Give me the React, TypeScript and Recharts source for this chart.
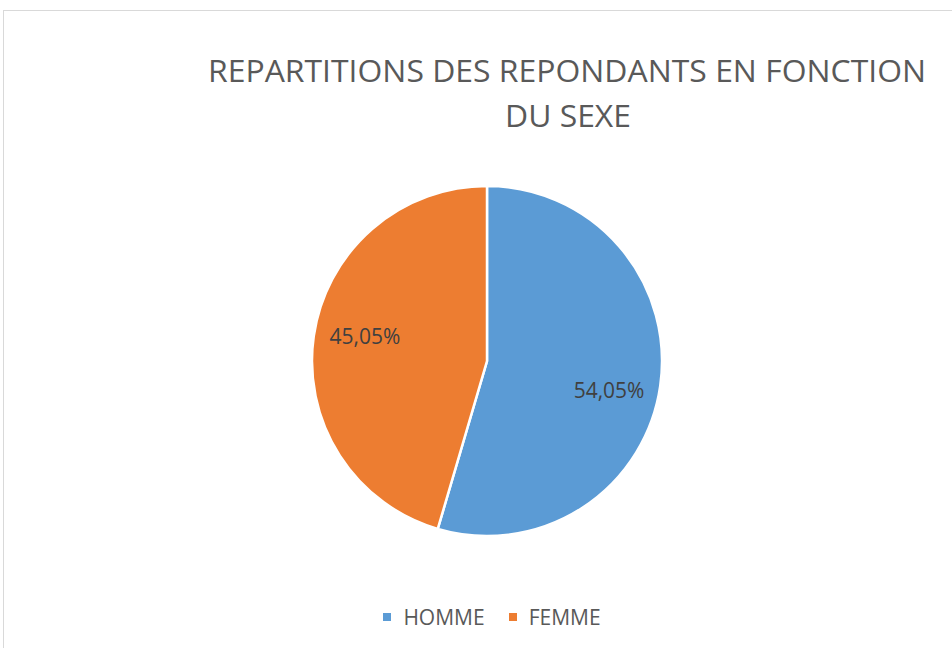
import React from "react";
import { PieChart, Pie, Cell, Legend } from "recharts";

const categories = ["HOMME", "FEMME"];
const values = [54.05, 45.05];
const labels = ["54,05%", "45,05%"];
const colors = ["#5B9BD5", "#ED7D31"];
const titleLines = ["REPARTITIONS DES REPONDANTS EN FONCTION", "DU SEXE"];

const data = categories.map((name, i) => ({ name, value: values[i], label: labels[i] }));

const FONT = "'Open Sans', 'Noto Sans', sans-serif";
const RAD = Math.PI / 180;

const renderLabel = (props: any) => {
  const { cx, cy, midAngle, outerRadius, index } = props;
  const a = (midAngle - 4.5) * RAD;
  const r = outerRadius * 0.715;
  const x = cx + r * Math.cos(a);
  const y = cy - r * Math.sin(a) + 2;
  return (
    <text
      x={x}
      y={y}
      fill="#404040"
      fontFamily={FONT}
      fontSize={21}
      textAnchor="middle"
      dominantBaseline="central"
    >
      {data[index].label}
    </text>
  );
};

const renderLegend = () => {
  return (
    <div style={{ display: "flex", justifyContent: "center", alignItems: "center", fontFamily: FONT }}>
      {data.map((d, i) => (
        <div key={d.name} style={{ display: "flex", alignItems: "center", marginRight: i < data.length - 1 ? 24 : 0 }}>
          <span style={{ display: "inline-block", width: 8, height: 8, background: colors[i], marginRight: 12 }} />
          <span style={{ fontSize: 21, color: "#595959", lineHeight: "24px" }}>{d.name}</span>
        </div>
      ))}
    </div>
  );
};

export default function App() {
  return (
    <div style={{ position: "absolute", left: 0, top: 0, width: 952, height: 648, background: "#fff", overflow: "hidden" }}>
      <div
        style={{
          position: "absolute",
          left: 3,
          top: 10,
          width: 960,
          height: 660,
          border: "1.5px solid #d9d9d9",
          boxSizing: "border-box",
        }}
      />
      <svg width={952} height={648} style={{ position: "absolute", left: 0, top: 0 }}>
        <text
          x={567}
          y={82}
          textAnchor="middle"
          fill="#595959"
          fontFamily={FONT}
          fontSize={31}
          textLength={718}
          lengthAdjust="spacingAndGlyphs"
        >
          {titleLines[0]}
        </text>
        <text
          x={568}
          y={127}
          textAnchor="middle"
          fill="#595959"
          fontFamily={FONT}
          fontSize={31}
          textLength={126}
          lengthAdjust="spacingAndGlyphs"
        >
          {titleLines[1]}
        </text>
      </svg>
      <div style={{ position: "absolute", left: 0, top: 0 }}>
        <PieChart width={952} height={648} margin={{ top: 0, right: 0, bottom: 0, left: 0 }}>
          <Pie
            data={data}
            dataKey="value"
            nameKey="name"
            cx={487}
            cy={361}
            outerRadius={175}
            startAngle={90}
            endAngle={-270}
            stroke="#ffffff"
            strokeWidth={2.5}
            label={renderLabel}
            labelLine={false}
            isAnimationActive={false}
          >
            {data.map((d, i) => (
              <Cell key={d.name} fill={colors[i]} />
            ))}
          </Pie>
          <Legend
            content={renderLegend}
            verticalAlign="bottom"
            wrapperStyle={{ position: "absolute", top: 605, bottom: "auto", left: 0, width: 984 }}
          />
        </PieChart>
      </div>
    </div>
  );
}
